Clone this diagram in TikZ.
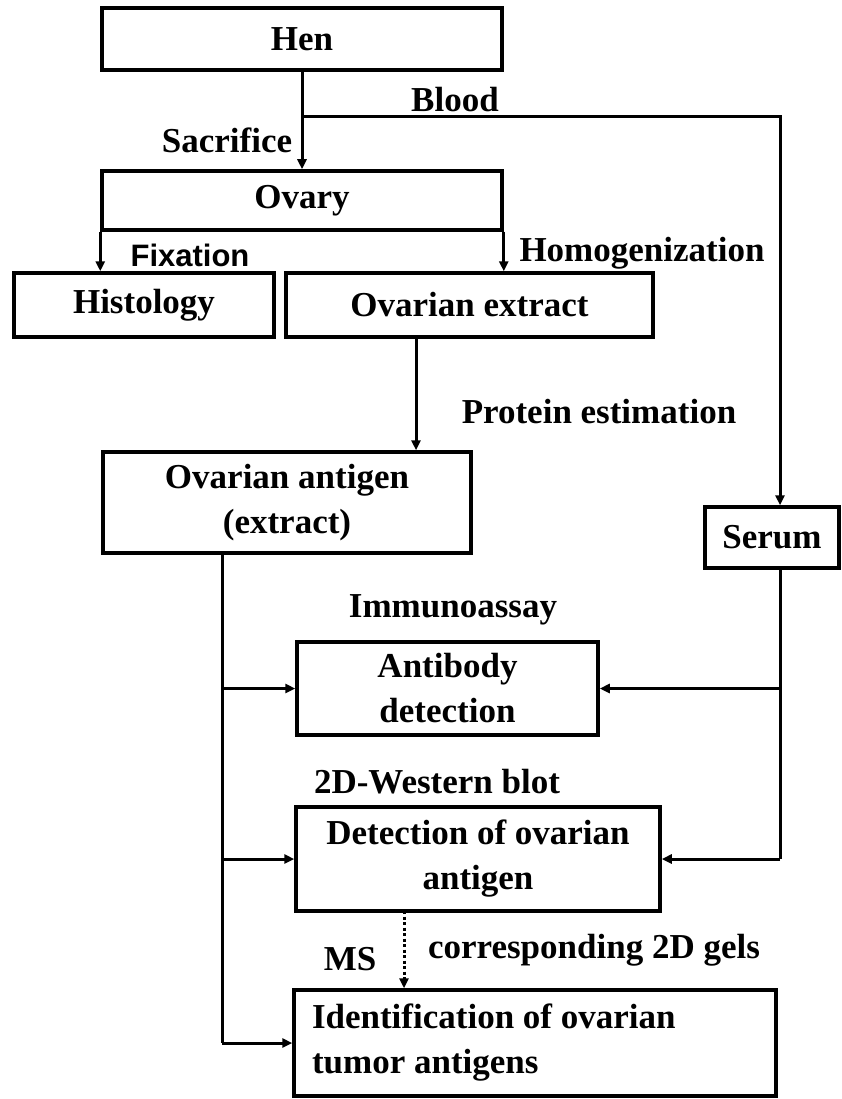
\documentclass[tikz,border=0pt]{standalone}
\usepackage{fontspec}
\setmainfont{Liberation Serif}
\newfontfamily\fixfont{Liberation Sans}
\usetikzlibrary{arrows.meta}

\begin{document}
\begin{tikzpicture}[x=1pt,y=-1pt,
	box/.style={draw, line width=3.5pt, inner sep=0pt, align=center, font=\fontsize{35}{45}\selectfont\bfseries},
	lbl/.style={inner sep=0pt, font=\fontsize{35}{45}\selectfont\bfseries},
	link/.style={line width=3pt},
	arr/.style={line width=3pt, -{Triangle[length=10pt,width=9pt]}}]

\useasboundingbox (0,0) rectangle (841,1099);

% boxes
\node[box, minimum width=400pt, minimum height=62pt] (hen) at (302,39) {Hen};
\node[box, minimum width=400pt, minimum height=59pt] (ovary) at (302,200.5) {Ovary};
\node[box, minimum width=260pt, minimum height=64pt] (histo) at (144,305) {Histology};
\node[box, minimum width=367pt, minimum height=64pt] (oextract) at (469.5,305) {Ovarian extract};
\node[box, minimum width=368pt, minimum height=101pt] (antigen) at (287,502.5) {Ovarian antigen\\(extract)};
\node[box, minimum width=134pt, minimum height=61pt] (serum) at (772,537.5) {Serum};
\node[box, minimum width=301pt, minimum height=93pt] (antibody) at (447.5,688.5) {Antibody\\detection};
\node[box, minimum width=364pt, minimum height=104pt] (detect) at (478,859) {Detection of ovarian\\antigen};
\node[box, minimum width=482pt, minimum height=106pt, text width=446pt, inner xsep=18pt, align=flush left] (ident) at (535,1043) {Identification of ovarian\\tumor antigens};

% labels
\node[lbl] (blood) at (455,100) {Blood};
\node[lbl] (sacr) at (227,140) {Sacrifice};
\node[lbl, font=\fontsize{31}{38}\fixfont\bfseries] (fix) at (190,255) {Fixation};
\node[lbl] (homog) at (642,253) {Homogenization};
\node[lbl] (prot) at (599,412) {Protein estimation};
\node[lbl] (immuno) at (453,610) {Immunoassay};
\node[lbl] (western) at (437,782) {2D-Western blot};
\node[lbl] (ms) at (350,959) {MS};
\node[lbl] (gels) at (594,950) {corresponding 2D gels};

\coordinate (split) at (302,117);
\coordinate (rbus) at (780,117);
\coordinate (lbus) at (222,553);
\coordinate (ptop) at (416,337);
\coordinate (mstop) at (404,911);

% connectors
\draw[arr] (hen) -- (ovary);
\draw[arr] (split) -- (rbus) -- (rbus |- serum.north);
\draw[arr] (ovary.south west) -- (ovary.south west |- histo.north);
\draw[arr] (ovary.south east) -- (ovary.south east |- oextract.north);
\draw[arr] (ptop) -- (ptop |- antigen.north);

\draw[link] (lbus) -- (lbus |- ident.west);
\foreach \n in {antibody,detect,ident}
	\draw[arr] (lbus |- \n.west) -- (\n.west);

\draw[link] (rbus |- serum.south) -- (rbus |- detect.east);
\foreach \n in {antibody,detect}
	\draw[arr] (rbus |- \n.east) -- (\n.east);

\draw[arr, dash pattern=on 3pt off 2.5pt] (mstop) -- (mstop |- ident.north);

\end{tikzpicture}
\end{document}
